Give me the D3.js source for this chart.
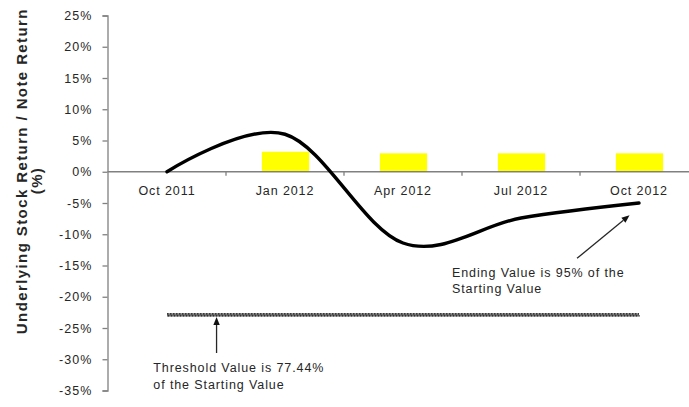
<!DOCTYPE html>
<html>
<head>
<meta charset="utf-8">
<script src="https://cdn.jsdelivr.net/npm/d3@7"></script>
<style>
  html, body { margin: 0; padding: 0; background: #fff; }
  svg { display: block; }
  text { font-family: "Liberation Sans", Arial, sans-serif; fill: #262626; }
</style>
</head>
<body>
<svg id="chart" width="689" height="407"></svg>
<script>
// ---- data ----
const categories = ["Oct 2011", "Jan 2012", "Apr 2012", "Jul 2012", "Oct 2012"];
const stockReturn = [0, 6.0, -11.4, -7.4, -5.0];
const noteReturn = [null, 3.2, 2.95, 2.95, 2.95];
const thresholdReturn = [-22.9, -22.9, -22.9, -22.9, -22.9];
const yTicks = [25, 20, 15, 10, 5, 0, -5, -10, -15, -20, -25, -30, -35];
const yTitle = ["Underlying Stock Return / Note Return", "(%)"];
const thresholdNote = ["Threshold Value is 77.44%", "of the Starting Value"];
const endingNote = ["Ending Value is 95% of the", "Starting Value"];

// ---- scales ----
const svg = d3.select("#chart");
const x = d3.scaleBand().domain(categories).range([108, 698]).paddingInner(0).paddingOuter(0);
const step = x.step();
const cx = c => x(c) + step / 2;
const xi = i => x(categories[0]) + step / 2 + i * step; // fractional category index
const y = d3.scaleLinear().domain([-35, 25]).range([390.5, 15.5]);
const barW = step * 0.4;

const axisColor = "#808080";

// ---- y axis ----
const yAxis = svg.append("g").attr("transform", "translate(107.5,0)")
  .call(d3.axisLeft(y).tickValues(yTicks).tickFormat(d => d + "%").tickSize(5).tickPadding(10));
yAxis.select(".domain").attr("stroke", axisColor).attr("stroke-width", 1.3);
yAxis.selectAll(".tick line").attr("stroke", axisColor).attr("stroke-width", 1.3);
yAxis.selectAll(".tick text")
  .attr("font-size", 12.5).attr("letter-spacing", "1.1px")
  .style("font-family", "'Liberation Sans', Arial, sans-serif").attr("fill", "#222");

// ---- bars ----
svg.append("g").selectAll("rect")
  .data(categories.map((c, i) => ({ c, v: noteReturn[i] })).filter(d => d.v != null))
  .join("rect")
  .attr("x", d => cx(d.c) - barW / 2 + 0.5)
  .attr("width", barW)
  .attr("y", d => y(d.v))
  .attr("height", d => y(0) - y(d.v))
  .attr("fill", "#ffff00");

// ---- x axis ----
const xg = svg.append("g");
xg.append("line").attr("x1", 107.5).attr("x2", 689).attr("y1", y(0)).attr("y2", y(0))
  .attr("stroke", axisColor).attr("stroke-width", 1.3);
xg.selectAll("line.tk").data(categories.slice(1)).join("line").attr("class", "tk")
  .attr("x1", d => x(d)).attr("x2", d => x(d))
  .attr("y1", y(0)).attr("y2", y(0) + 4)
  .attr("stroke", axisColor).attr("stroke-width", 1.3);
xg.selectAll("text").data(categories).join("text")
  .attr("x", d => cx(d)).attr("y", y(0) + 23)
  .attr("text-anchor", "middle").attr("font-size", 12.5).attr("letter-spacing", "0.9px")
  .attr("fill", "#222")
  .text(d => d);

// ---- threshold line ----
const thrLine = d3.line().x((d, i) => cx(categories[i])).y(d => y(d));
const tg = svg.append("g");
tg.append("path").attr("d", thrLine(thresholdReturn)).attr("fill", "none")
  .attr("stroke", "#7a7a7a").attr("stroke-width", 3.2);
tg.append("path").attr("d", thrLine(thresholdReturn)).attr("transform", "translate(0,-1)").attr("fill", "none")
  .attr("stroke", "#1a1a1a").attr("stroke-width", 1.1).attr("stroke-dasharray", "1.5,1.5");
tg.append("path").attr("d", thrLine(thresholdReturn)).attr("transform", "translate(0.75,1)").attr("fill", "none")
  .attr("stroke", "#1a1a1a").attr("stroke-width", 1.1).attr("stroke-dasharray", "1.5,1.5");

// ---- stock line ----
const stockLine = d3.line().x((d, i) => cx(categories[i])).y(d => y(d)).curve(d3.curveCardinal.tension(0));
svg.append("path").attr("d", stockLine(stockReturn)).attr("fill", "none")
  .attr("stroke", "#000").attr("stroke-width", 3.4).attr("stroke-linecap", "round");

// ---- annotations ----
function arrow(x1, y1, x2, y2) {
  const g = svg.append("g");
  const ang = Math.atan2(y2 - y1, x2 - x1);
  const L = 8, W = 3.2;
  const bx = x2 - L * Math.cos(ang), by = y2 - L * Math.sin(ang);
  g.append("line").attr("x1", x1).attr("y1", y1).attr("x2", bx).attr("y2", by)
    .attr("stroke", "#262626").attr("stroke-width", 1.3);
  const px = -Math.sin(ang), py = Math.cos(ang);
  g.append("path").attr("d", `M${x2},${y2}L${bx + px * W},${by + py * W}L${bx - px * W},${by - py * W}Z`)
    .attr("fill", "#111");
}
arrow(xi(0.42), y(-29.0), xi(0.42), y(thresholdReturn[0]) + 2);
arrow(xi(3.475), y(-13.85), xi(3.92), y(-6.95));

function note(lines, xStart, yFirst, yStep) {
  svg.append("g").selectAll("text").data(lines).join("text")
    .attr("x", xStart).attr("y", (d, i) => yFirst + i * yStep).attr("dy", "0.35em")
    .attr("font-size", 12.5).attr("letter-spacing", "0.9px").attr("fill", "#222").text(d => d);
}
note(thresholdNote, xi(-0.116), y(-31.4), y(-34.1) - y(-31.4));
note(endingNote, xi(2.415), y(-16.2), y(-18.76) - y(-16.2));

// ---- y title ----
const ty = svg.append("g").attr("font-weight", "bold");
ty.append("text").attr("transform", `translate(27,${y(0.1)}) rotate(-90)`)
  .attr("text-anchor", "middle").attr("font-size", 15).attr("letter-spacing", "1.4px")
  .attr("font-weight", "bold").attr("fill", "#222").text(yTitle[0]);
ty.append("text").attr("transform", `translate(42,${y(-1.4)}) rotate(-90)`)
  .attr("text-anchor", "middle").attr("font-size", 15).attr("letter-spacing", "1.4px")
  .attr("font-weight", "bold").attr("fill", "#222").text(yTitle[1]);
</script>
</body>
</html>
